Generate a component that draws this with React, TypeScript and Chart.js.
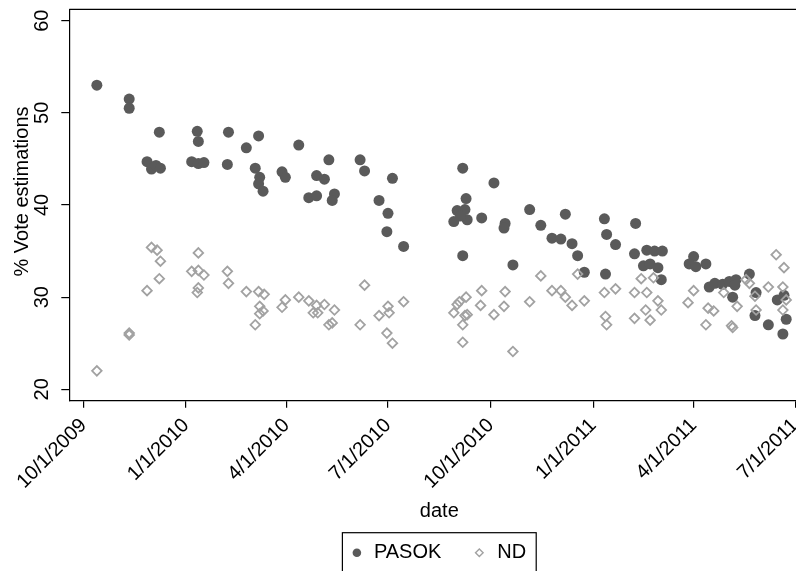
import React, { useEffect, useRef } from "react";
import { Chart, registerables } from "chart.js";

Chart.register(...registerables);

// Poll dates (m/d/yyyy) and vote estimations per party
const xTickLabels = ["10/1/2009", "1/1/2010", "4/1/2010", "7/1/2010", "10/1/2010", "1/1/2011", "4/1/2011", "7/1/2011"];
const yTicks = [20, 30, 40, 50, 60];

const pasokDates = [
  "10/13/2009", "11/11/2009", "11/11/2009", "11/27/2009", "12/1/2009", "12/5/2009", "12/9/2009", "12/8/2009",
  "1/6/2010", "1/11/2010", "1/12/2010", "1/12/2010", "1/17/2010", "2/8/2010", "2/7/2010", "2/24/2010",
  "3/7/2010", "3/4/2010", "3/8/2010", "3/7/2010", "3/11/2010", "3/28/2010", "3/31/2010", "4/12/2010",
  "4/21/2010", "4/28/2010", "4/28/2010", "5/5/2010", "5/9/2010", "5/14/2010", "5/12/2010", "6/6/2010",
  "6/10/2010", "6/23/2010", "7/1/2010", "6/30/2010", "7/5/2010", "7/15/2010",
  "9/6/2010", "10/4/2010", "9/9/2010", "9/1/2010", "9/8/2010", "8/29/2010", "9/10/2010", "9/4/2010",
  "9/23/2010", "9/6/2010", "10/14/2010", "10/13/2010", "10/21/2010", "11/5/2010", "11/15/2010", "11/25/2010",
  "12/3/2010", "12/7/2010", "12/13/2010", "12/18/2010", "12/24/2010",
  "1/11/2011", "1/13/2011", "1/12/2011", "1/21/2011", "2/8/2011", "2/7/2011", "2/18/2011", "2/25/2011",
  "3/4/2011", "2/15/2011", "2/21/2011", "2/28/2011", "3/3/2011", "4/1/2011", "3/28/2011", "4/3/2011",
  "4/12/2011", "4/15/2011", "4/20/2011", "4/27/2011", "5/3/2011", "5/9/2011", "5/8/2011", "5/21/2011",
  "5/6/2011", "5/27/2011", "5/26/2011", "6/7/2011", "6/15/2011", "6/21/2011", "6/23/2011", "6/20/2011",
];
const pasokVotes = [
  53.0, 51.5, 50.5, 44.7, 43.9, 44.3, 44.0, 47.9,
  44.7, 48.0, 46.9, 44.5, 44.6, 47.9, 44.4, 46.2,
  47.5, 44.0, 43.0, 42.3, 41.5, 43.6, 43.0, 46.5,
  40.8, 43.2, 41.0, 42.8, 44.9, 41.2, 40.5, 44.9,
  43.7, 40.5, 39.1, 37.1, 42.9, 35.5,
  44.0, 42.4, 40.7, 39.4, 39.5, 38.2, 38.4, 38.8,
  38.6, 34.5, 38.0, 37.5, 33.5, 39.5, 37.8, 36.4,
  36.3, 39.0, 35.8, 34.5, 32.7,
  38.5, 36.8, 32.5, 35.7, 38.0, 34.7, 35.1, 35.0,
  35.0, 33.4, 33.6, 33.2, 31.9, 34.4, 33.6, 33.3,
  33.6, 31.1, 31.5, 31.4, 31.7, 31.9, 31.3, 32.5,
  30.0, 30.5, 28.0, 27.0, 29.7, 30.2, 27.6, 26.0,
];

const ndDates = [
  "10/13/2009", "11/11/2009", "11/11/2009", "11/27/2009", "12/1/2009", "12/6/2009", "12/9/2009", "12/8/2009",
  "1/6/2010", "1/12/2010", "1/12/2010", "1/17/2010", "1/12/2010", "1/11/2010", "2/7/2010", "2/8/2010",
  "2/24/2010", "3/7/2010", "3/12/2010", "3/8/2010", "3/11/2010", "3/8/2010", "3/4/2010", "3/31/2010",
  "3/28/2010", "4/12/2010", "4/21/2010", "4/28/2010", "4/25/2010", "4/29/2010", "5/5/2010", "5/14/2010",
  "5/9/2010", "5/12/2010", "6/10/2010", "6/6/2010", "6/23/2010", "7/1/2010", "7/2/2010", "6/30/2010",
  "7/5/2010", "7/15/2010",
  "9/23/2010", "10/14/2010", "9/9/2010", "9/3/2010", "9/1/2010", "8/29/2010", "9/10/2010", "9/8/2010",
  "9/6/2010", "9/6/2010", "9/22/2010", "10/4/2010", "10/13/2010", "10/21/2010", "11/5/2010", "11/15/2010",
  "11/25/2010", "12/3/2010", "12/7/2010", "12/13/2010", "12/18/2010", "12/24/2010",
  "1/11/2011", "1/12/2011", "1/13/2011", "1/21/2011", "2/13/2011", "2/24/2011", "2/7/2011", "2/18/2011",
  "2/28/2011", "2/17/2011", "3/3/2011", "2/7/2011", "2/21/2011", "4/1/2011", "3/27/2011", "4/14/2011",
  "4/19/2011", "4/12/2011", "4/28/2011", "5/10/2011", "5/5/2011", "5/6/2011", "5/18/2011", "5/21/2011",
  "5/26/2011", "5/27/2011", "6/7/2011", "6/14/2011", "6/21/2011", "6/20/2011", "6/23/2011", "6/20/2011",
];
const ndVotes = [
  22.0, 26.1, 25.9, 30.7, 35.4, 35.1, 33.9, 32.0,
  32.8, 34.8, 32.9, 32.4, 31.0, 30.5, 32.8, 31.5,
  30.6, 30.6, 30.3, 29.0, 28.5, 28.2, 27.0, 29.7,
  28.9, 30.0, 29.6, 29.1, 28.3, 28.3, 29.2, 28.6,
  27.0, 27.2, 31.3, 27.0, 28.0, 29.0, 28.3, 26.1,
  25.0, 29.5,
  30.7, 30.6, 30.0, 29.5, 29.2, 28.3, 28.1, 28.0,
  27.0, 25.1, 29.1, 28.1, 29.0, 24.1, 29.5, 32.3,
  30.7, 30.7, 30.0, 29.1, 32.5, 29.6,
  30.5, 27.9, 27.0, 30.9, 32.0, 32.1, 30.5, 30.5,
  29.6, 28.6, 28.6, 27.7, 27.5, 30.7, 29.4, 28.8,
  28.5, 27.0, 30.5, 29.0, 26.9, 26.7, 31.9, 31.5,
  30.1, 28.6, 31.1, 34.6, 33.2, 31.1, 29.7, 28.6,
];

// Days counted from the first x tick
const EPOCH = Date.UTC(2009, 9, 1);
const dayOf = (s: string) => {
  const [m, d, y] = s.split("/").map(Number);
  return (Date.UTC(y, m - 1, d) - EPOCH) / 86400000;
};
const xTickDays = xTickLabels.map(dayOf);

const FONT = "'Liberation Sans', Arial, Helvetica, sans-serif";
const PASOK_COLOR = "#5a5a5a";
const ND_COLOR = "#a2a2a2";

const X_MIN = -12.7;
const X_MAX = 650.7;
const Y_MIN = 18.76;
const Y_MAX = 61.24;

const CANVAS_W = 830;
const CANVAS_H = 571;

const decorPlugin = {
  id: "frameTitleLegend",
  afterDraw(chart: any) {
    const { ctx, chartArea: a } = chart;
    ctx.save();
    // top and right edges of the plot region
    ctx.strokeStyle = "#000";
    ctx.lineWidth = 1.2;
    ctx.beginPath();
    ctx.moveTo(a.left, a.top);
    ctx.lineTo(a.right, a.top);
    ctx.lineTo(a.right, a.bottom);
    ctx.stroke();

    // y-axis title
    ctx.fillStyle = "#000";
    ctx.font = `20px ${FONT}`;
    ctx.textAlign = "center";
    ctx.textBaseline = "middle";
    ctx.save();
    ctx.translate(22, (a.top + a.bottom) / 2 - 13.5);
    ctx.rotate(-Math.PI / 2);
    ctx.fillText("% Vote estimations", 0, 0);
    ctx.restore();

    // legend box
    const labels = ["PASOK", "ND"];
    const w1 = ctx.measureText(labels[0]).width;
    const w2 = ctx.measureText(labels[1]).width;
    const boxW = 97.5 + w1 + w2;
    const cx = (a.left + a.right) / 2;
    const left = cx - boxW / 2;
    const top = a.bottom + 132;
    const midY = top + 20;
    ctx.lineWidth = 1.2;
    ctx.strokeStyle = "#000";
    ctx.strokeRect(left, top, boxW, 50);

    const m1 = left + 14.5;
    ctx.fillStyle = PASOK_COLOR;
    ctx.beginPath();
    ctx.arc(m1, midY, 4.3, 0, Math.PI * 2);
    ctx.fill();
    ctx.fillStyle = "#000";
    ctx.textAlign = "left";
    ctx.fillText(labels[0], m1 + 17, midY);

    const m2 = m1 + 17 + w1 + 38;
    ctx.strokeStyle = ND_COLOR;
    ctx.lineWidth = 1.4;
    ctx.beginPath();
    ctx.moveTo(m2 - 3.8, midY);
    ctx.lineTo(m2, midY - 3.8);
    ctx.lineTo(m2 + 3.8, midY);
    ctx.lineTo(m2, midY + 3.8);
    ctx.closePath();
    ctx.stroke();
    ctx.fillStyle = "#000";
    ctx.fillText(labels[1], m2 + 18, midY);
    ctx.restore();
  },
};

export default function App() {
  const ref = useRef<HTMLCanvasElement>(null);

  useEffect(() => {
    if (!ref.current) return;
    const pasokPoints = pasokDates.map((d, i) => ({ x: dayOf(d), y: pasokVotes[i] }));
    const ndPoints = ndDates.map((d, i) => ({ x: dayOf(d), y: ndVotes[i] }));

    const chart = new Chart(ref.current, {
      type: "scatter",
      data: {
        datasets: [
          {
            label: "PASOK",
            data: pasokPoints,
            pointStyle: "circle",
            pointRadius: 5.5,
            backgroundColor: PASOK_COLOR,
            borderWidth: 0,
            order: 1,
          },
          {
            label: "ND",
            data: ndPoints,
            pointStyle: "rectRot",
            pointRadius: 4.8,
            backgroundColor: "rgba(0,0,0,0)",
            borderColor: ND_COLOR,
            borderWidth: 1.8,
            order: 0,
          },
        ],
      },
      options: {
        responsive: false,
        animation: false,
        devicePixelRatio: 1,
        layout: { padding: { top: 9.3, right: CANVAS_W - 809.3, bottom: 46, left: 0 } },
        plugins: { legend: { display: false }, tooltip: { enabled: false } },
        scales: {
          x: {
            type: "linear",
            min: X_MIN,
            max: X_MAX,
            afterBuildTicks: (s: any) => {
              s.ticks = xTickDays.map((value) => ({ value }));
            },
            afterFit: (s: any) => {
              s.height = CANVAS_H - 46 - 400.7;
            },
            ticks: {
              autoSkip: false,
              minRotation: 45,
              maxRotation: 45,
              padding: 6,
              color: "#000",
              font: { family: FONT, size: 20 },
              callback: (_v: any, i: number) => xTickLabels[i],
            },
            grid: { drawOnChartArea: false, drawTicks: true, tickLength: 7, color: "#000", lineWidth: 1.2 },
            border: { display: true, color: "#000", width: 1.2 },
            title: {
              display: true,
              text: "date",
              color: "#000",
              font: { family: FONT, size: 20 },
              padding: { top: 0, bottom: 1.5 },
            },
          },
          y: {
            type: "linear",
            min: Y_MIN,
            max: Y_MAX,
            afterBuildTicks: (s: any) => {
              s.ticks = yTicks.map((value) => ({ value }));
            },
            afterFit: (s: any) => {
              s.width = 69.3;
            },
            ticks: {
              minRotation: 90,
              maxRotation: 90,
              crossAlign: "center",
              padding: 8,
              color: "#000",
              font: { family: FONT, size: 20, lineHeight: 0.1 },
            },
            grid: { drawOnChartArea: false, drawTicks: true, tickLength: 8, color: "#000", lineWidth: 1.2 },
            border: { display: true, color: "#000", width: 1.2 },
          },
        },
      } as any,
      plugins: [decorPlugin],
    });
    return () => chart.destroy();
  }, []);

  return (
    <div
      style={{
        position: "absolute",
        left: 0,
        top: 0,
        width: 796,
        height: CANVAS_H,
        overflow: "hidden",
        background: "#fff",
      }}
    >
      <canvas ref={ref} width={CANVAS_W} height={CANVAS_H} style={{ display: "block", width: CANVAS_W, height: CANVAS_H }} />
    </div>
  );
}
